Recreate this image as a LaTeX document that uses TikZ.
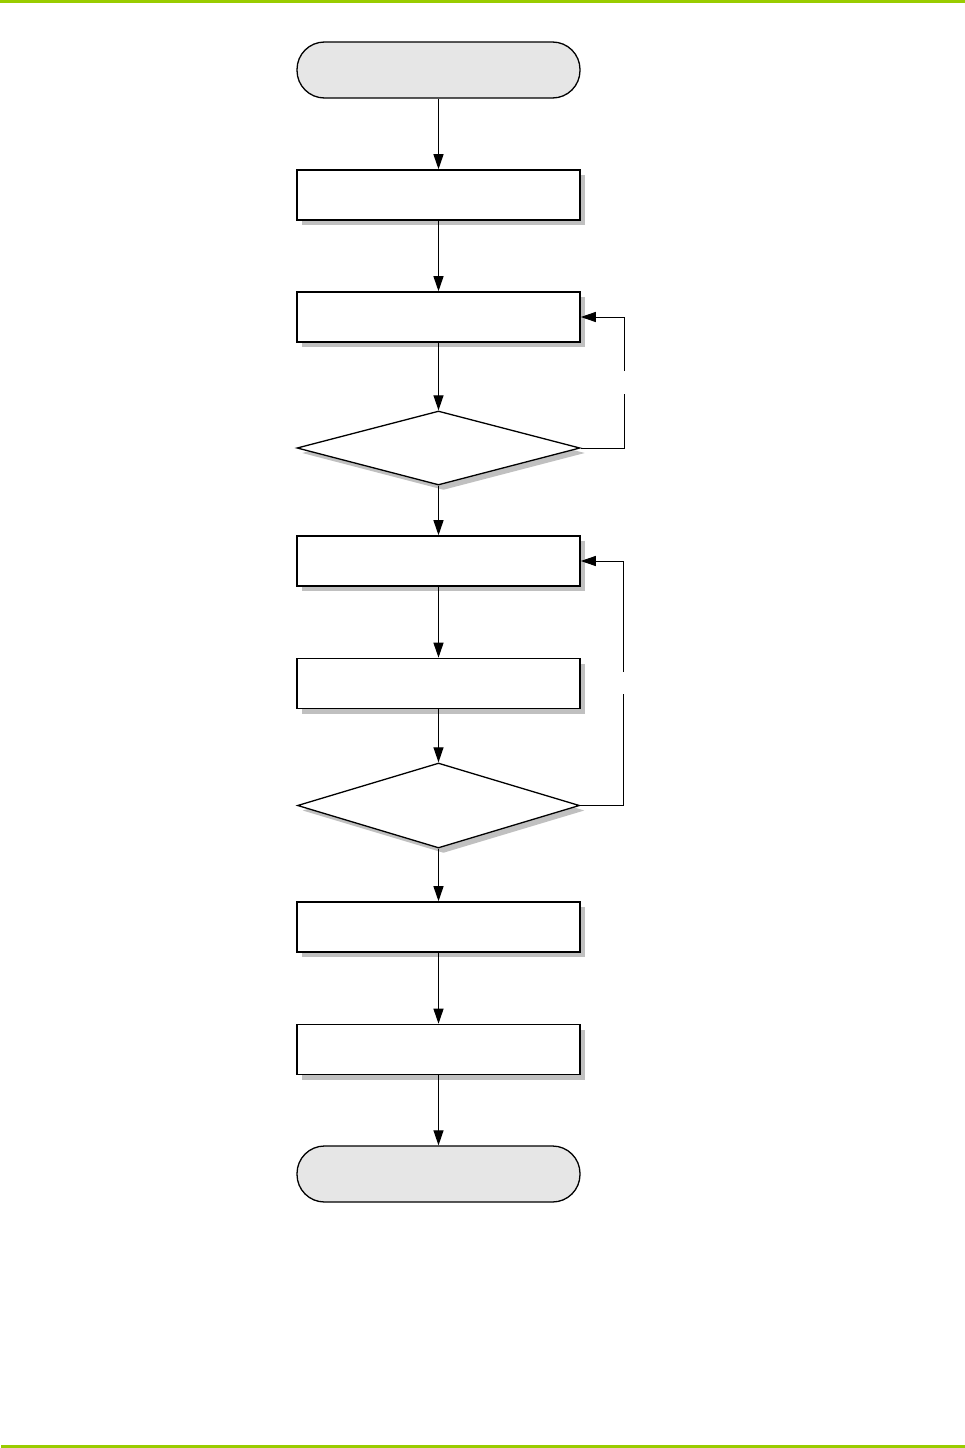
\documentclass[tikz,border=0pt]{standalone}
\usetikzlibrary{shapes.geometric,shadows,arrows.meta}
\definecolor{barGreen}{HTML}{99CC00}
\definecolor{termFill}{HTML}{E6E6E6}
\definecolor{shadowGray}{HTML}{C0C0C0}
\begin{document}
\begin{tikzpicture}[x=1pt,y=-1pt,
  shade box/.style={drop shadow={shadow xshift=5pt,shadow yshift=-5pt,fill=shadowGray,opacity=1}},
  term/.style={draw=black,line width=1.3pt,fill=termFill,rounded corners=27.5pt,minimum width=283pt,minimum height=56pt,inner sep=0pt},
  procbox/.style={draw=black,line width=1.6pt,fill=white,minimum width=283pt,minimum height=50pt,inner sep=0pt,shade box},
  decide/.style={diamond,draw=black,line width=1.3pt,fill=white,inner sep=0pt,shade box},
  flow/.style={draw=black,line width=1.1pt,-{Triangle[length=15pt,width=10pt]}},
  loopline/.style={draw=black,line width=1pt}
]
\useasboundingbox (0,0) rectangle (965,1448);
\fill[white] (0,0) rectangle (965,1448);
\draw[barGreen,line width=3pt] (0,1.5) -- (965,1.5);
\draw[barGreen,line width=2.5pt] (1,1446.5) -- (965,1446.5);

\node[term] (start) at (438.5,70) {};
\node[procbox] (b1) at (438.5,195) {};
\node[procbox] (b2) at (438.5,317) {};
\node[decide,minimum width=283pt,minimum height=74pt] (d1) at (438.5,448) {};
\node[procbox] (b3) at (438.5,561) {};
\node[procbox] (b4) at (438.5,683.5) {};
\node[decide,minimum width=282pt,minimum height=85pt] (d2) at (438.5,805.5) {};
\node[procbox] (b5) at (438.5,927) {};
\node[procbox] (b6) at (438.5,1049.5) {};
\node[term] (end) at (438.5,1174) {};

\draw[flow] (start) -- (b1);
\draw[flow] (b1) -- (b2);
\draw[flow] (b2) -- (d1);
\draw[flow] (d1) -- (b3);
\draw[flow] (b3) -- (b4);
\draw[flow] (b4) -- (d2);
\draw[flow] (d2) -- (b5);
\draw[flow] (b5) -- (b6);
\draw[flow] (b6) -- (end);

\coordinate (l1a) at (624,448);
\coordinate (l1b) at (624,394);
\coordinate (l1c) at (624,371);
\coordinate (l1d) at (624,317);
\draw[loopline] (d1.east) -- (l1a) -- (l1b);
\draw[loopline,-{Triangle[length=15pt,width=10pt]}] (l1c) -- (l1d) -- (b2.east);

\coordinate (l2a) at (623,805.5);
\coordinate (l2b) at (623,694);
\coordinate (l2c) at (623,672);
\coordinate (l2d) at (623,561);
\draw[loopline] (d2.east) -- (l2a) -- (l2b);
\draw[loopline,-{Triangle[length=15pt,width=10pt]}] (l2c) -- (l2d) -- (b3.east);
\end{tikzpicture}
\end{document}
